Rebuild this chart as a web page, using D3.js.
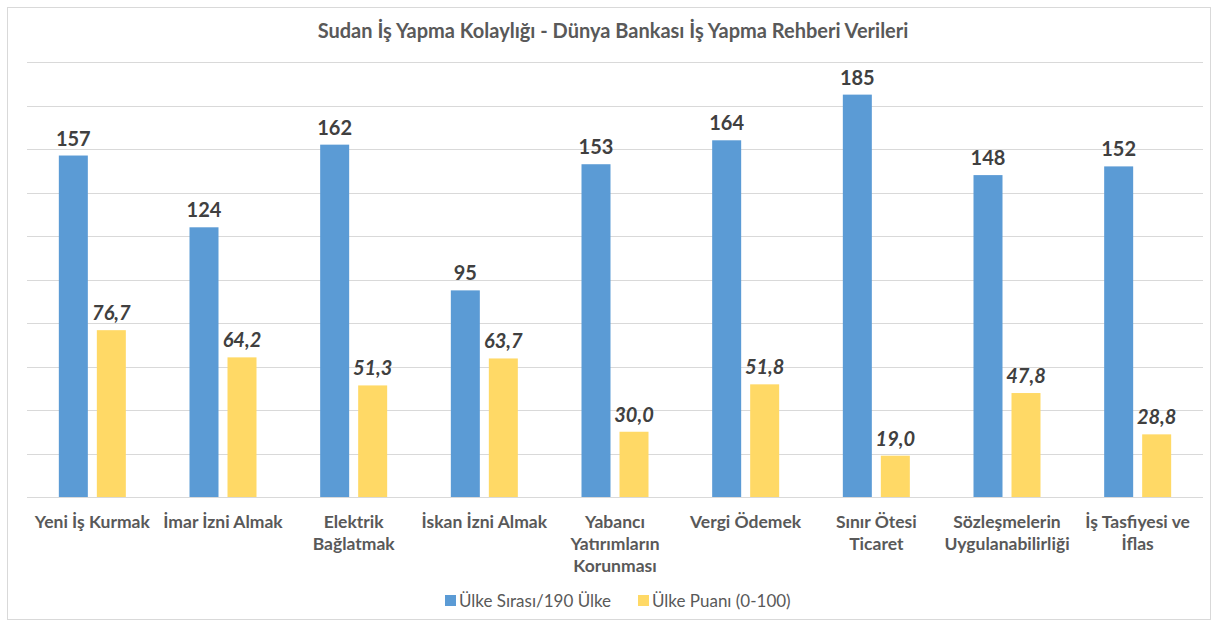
<!DOCTYPE html>
<html>
<head>
<meta charset="utf-8">
<script src="https://cdn.jsdelivr.net/npm/d3@7"></script>
<style>
	body { margin: 0; background: #fff; }
	svg { font-family: Lato, "Open Sans", sans-serif; }
</style>
</head>
<body>
<svg width="1219" height="624"></svg>
<script>
'use strict';

// categories (one array entry per line of the axis label)
const categories = [
	["Yeni İş Kurmak"],
	["İmar İzni Almak"],
	["Elektrik", "Bağlatmak"],
	["İskan İzni Almak"],
	["Yabancı", "Yatırımların", "Korunması"],
	["Vergi Ödemek"],
	["Sınır Ötesi", "Ticaret"],
	["Sözleşmelerin", "Uygulanabilirliği"],
	["İş Tasfiyesi ve", "İflas"]
];
const rankValues = [157, 124, 162, 95, 153, 164, 185, 148, 152];
const scoreValues = [76.7, 64.2, 51.3, 63.7, 30.0, 51.8, 19.0, 47.8, 28.8];
const seriesNames = ["Ülke Sırası/190 Ülke", "Ülke Puanı (0-100)"];
const seriesColors = ["#5B9BD5", "#FFD966"];
const yTicks = d3.range(0, 201, 20);

const svg = d3.select("svg");
const margin = {left: 27, right: 16, top: 62, bottom: 127};
const width = 1219, height = 624;

// chart border
svg.append("rect")
	.attr("x", 7.5).attr("y", 7.5)
	.attr("width", 1203).attr("height", 612)
	.attr("fill", "#fff")
	.attr("stroke", "#d9d9d9");

svg.append("text")
	.attr("x", 613).attr("y", 38)
	.attr("text-anchor", "middle")
	.attr("font-size", 20).attr("font-weight", "bold")
	.attr("fill", "#595959")
	.text("Sudan İş Yapma Kolaylığı - Dünya Bankası İş Yapma Rehberi Verileri");

const x = d3.scaleBand()
	.domain(d3.range(categories.length))
	.range([margin.left, width - margin.right]);

const y = d3.scaleLinear()
	.domain([0, 200])
	.range([height - margin.bottom, margin.top]);

// gridlines
svg.append("g")
	.selectAll("line")
	.data(yTicks)
	.enter().append("line")
	.attr("x1", margin.left).attr("x2", width - margin.right)
	.attr("y1", d => Math.round(y(d)) + 0.5)
	.attr("y2", d => Math.round(y(d)) + 0.5)
	.attr("stroke", "#d9d9d9")
	.attr("stroke-width", 1);

const barW = 29, barGap = 9;
const series = [rankValues, scoreValues];

series.forEach((vals, s) => {
	const offset = s === 0 ? -(barGap / 2 + barW) : barGap / 2;
	const g = svg.append("g");
	g.selectAll("rect")
		.data(vals)
		.enter().append("rect")
		.attr("x", (d, i) => x(i) + x.bandwidth() / 2 + offset)
		.attr("y", d => y(d))
		.attr("width", barW)
		.attr("height", d => y(0) - y(d))
		.attr("fill", seriesColors[s]);

	g.selectAll("text")
		.data(vals)
		.enter().append("text")
		.attr("x", (d, i) => x(i) + x.bandwidth() / 2 + offset + barW / 2)
		.attr("y", d => y(d) - 10)
		.attr("text-anchor", "middle")
		.attr("font-size", 20).attr("font-weight", "bold")
		.attr("font-style", s === 1 ? "italic" : null)
		.attr("fill", "#404040")
		.text(d => s === 0 ? d : d.toFixed(1).replace(".", ","));
});

// category labels
const cat = svg.append("g")
	.selectAll("text")
	.data(categories)
	.enter().append("text")
	.attr("x", (d, i) => x(i) + x.bandwidth() / 2)
	.attr("y", 528)
	.attr("text-anchor", "middle")
	.attr("font-size", 17.5).attr("font-weight", "bold")
	.attr("fill", "#595959");
cat.selectAll("tspan")
	.data(d => d)
	.enter().append("tspan")
	.attr("x", function() { return this.parentNode.getAttribute("x"); })
	.attr("dy", (d, i) => i === 0 ? 0 : 22)
	.text(d => d);

// legend
const legendX = [445, 638];
seriesNames.forEach((name, s) => {
	svg.append("rect")
		.attr("x", legendX[s]).attr("y", 595)
		.attr("width", 11).attr("height", 11)
		.attr("fill", seriesColors[s]);
	svg.append("text")
		.attr("x", legendX[s] + 14).attr("y", 607)
		.attr("font-size", 17)
		.attr("fill", "#595959")
		.text(name);
});
</script>
</body>
</html>
